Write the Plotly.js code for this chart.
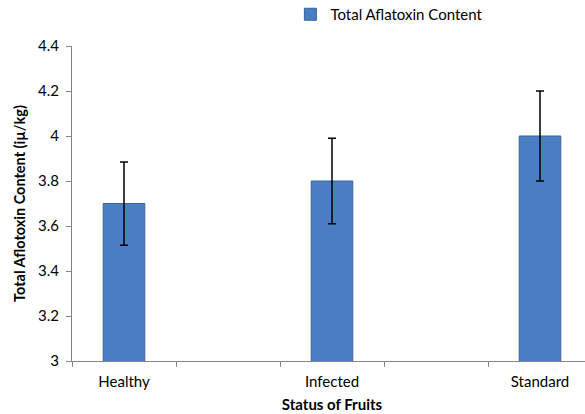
<!DOCTYPE html>
<html>
<head>
<meta charset="utf-8">
<script src="https://cdn.plot.ly/plotly-3.0.1.min.js"></script>
<style>
html,body{margin:0;padding:0;overflow:hidden;background:#fff;}
#chart{width:600px;height:414px;}
</style>
</head>
<body>
<div id="chart"></div>
<script>
const categories = ['Healthy', 'Infected', 'Standard'];
const slots = ['Healthy', ' ', 'Infected', '  ', 'Standard'];
const values = [3.7, 3.8, 4.0];
const errors = [0.185, 0.19, 0.2];
const seriesName = 'Total Aflatoxin Content';
const yTicks = [3, 3.2, 3.4, 3.6, 3.8, 4, 4.2, 4.4];

const FONT = 'Lato, Open Sans, sans-serif';

const trace = {
  type: 'bar',
  x: categories,
  y: values,
  name: seriesName,
  width: 0.4,
  marker: {color: '#4a7ec2', line: {color: '#36649f', width: 1}},
  error_y: {type: 'data', array: errors, visible: true, color: '#000', thickness: 1.5, width: 4},
  showlegend: true
};

const layout = {
  width: 600, height: 414,
  margin: {l: 72, r: 8, t: 46, b: 53, autoexpand: false},
  paper_bgcolor: '#fff', plot_bgcolor: '#fff',
  font: {family: FONT, size: 14, color: '#000'},
  showlegend: true,
  legend: {orientation: 'h', x: 0.42, xanchor: 'left', y: 1.10, yanchor: 'middle',
           font: {family: FONT, size: 15, color: '#000'}, itemwidth: 30, bgcolor: 'rgba(0,0,0,0)'},
  xaxis: {
    type: 'category', categoryorder: 'array', categoryarray: slots,
    range: [-0.5, 4.5],
    showline: true, linecolor: '#868686', linewidth: 1,
    ticks: 'outside', tickson: 'boundaries', ticklen: 5, tickcolor: '#868686',
    ticklabelstandoff: 7,
    showgrid: false, zeroline: false,
    tickfont: {family: FONT, size: 15, color: '#000'},
    title: {text: '<b>Status of Fruits</b>', font: {family: FONT, size: 15, color: '#000'}, standoff: 10}
  },
  yaxis: {
    range: [3, 4.4], tickvals: yTicks, ticktext: yTicks.map(v => String(v)),
    showline: true, linecolor: '#868686', linewidth: 1,
    ticks: 'outside', ticklen: 5, tickcolor: '#868686',
    ticklabelstandoff: 4,
    showgrid: false, zeroline: false,
    tickfont: {family: FONT, size: 15, color: '#000'},
    title: {text: '<b>Total Aflotoxin Content (iµ/kg)</b>', font: {family: FONT, size: 14.5, color: '#000'}, standoff: 8}
  }
};

Plotly.newPlot('chart', [trace], layout, {displayModeBar: false, staticPlot: true});
</script>
</body>
</html>
